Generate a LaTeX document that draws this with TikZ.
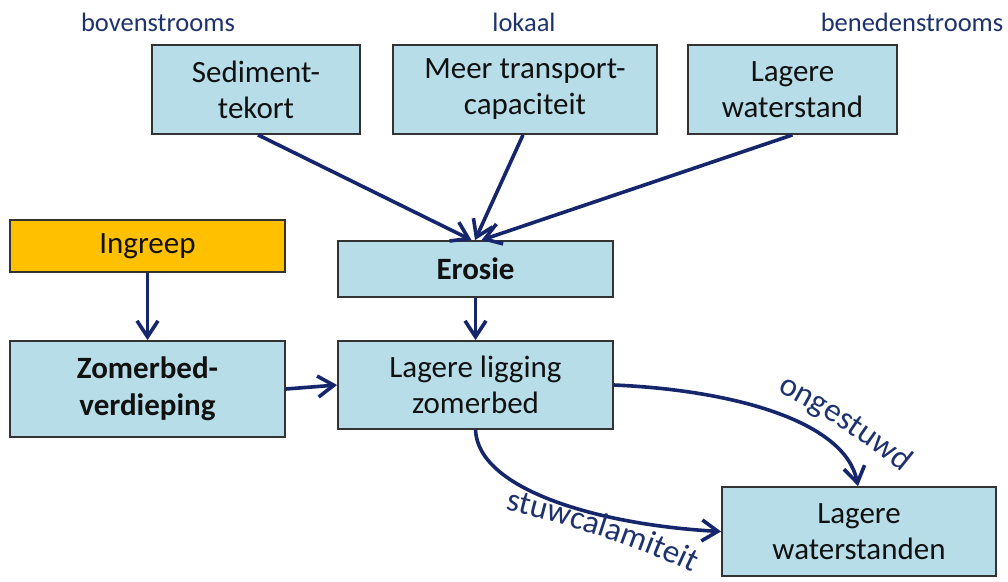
\documentclass[tikz,border=0pt]{standalone}
\usepackage{fontspec}
\setmainfont{Carlito}
\usetikzlibrary{arrows.meta,decorations.text}
\definecolor{boxfill}{HTML}{B7DDE8}
\definecolor{ingfill}{HTML}{FFC000}
\definecolor{boxline}{HTML}{333333}
\definecolor{arrowc}{RGB}{22,38,108}
\definecolor{labc}{RGB}{30,50,110}
\definecolor{boxtext}{HTML}{111111}
\newcommand\boxfont{\fontsize{31}{36}\selectfont}
\newcommand\boldboxfont{\fontsize{31}{37}\selectfont\bfseries}
\newcommand\labfont{\fontsize{26.5}{30}\selectfont}
\newcommand\curvefont{\fontsize{33}{40}\selectfont}
\begin{document}
\begin{tikzpicture}[x=1pt,y=-1pt,
  stdbox/.style={draw=boxline, line width=1.8pt, fill=boxfill, inner sep=0pt,
    align=center, text=boxtext, font=\boxfont},
  dimbox/.style 2 args={minimum width=#1pt, minimum height=#2pt},
  toplab/.style={text=labc, font=\labfont, inner sep=0pt},
  arr/.style={draw=arrowc, line width=3.6pt, -{Straight Barb[length=16pt,width=21pt]}},
  curvelab/.style={decorate, decoration={text along path, text align=center,
    text color=labc, text={|\curvefont|#1}}}
]
\useasboundingbox (0,0) rectangle (1008,581);
\fill[white] (0,0) rectangle (1008,581);

% top labels
\node[toplab] (bov) at (158,22) {bovenstrooms};
\node[toplab] (lokl) at (524,22) {lokaal};
\node[toplab] (bene) at (912,22) {benedenstrooms};

% boxes
\node[stdbox, dimbox={208}{89}] (sed) at (256,89.5) {Sediment-\\tekort};
\node[stdbox, dimbox={264}{89}] (lok) at (525,89.5) {Meer transport-\\capaciteit};
\node[stdbox, dimbox={209}{89}] (wat) at (792.5,89.5) {Lagere\\waterstand};
\node[stdbox, dimbox={275}{52}, fill=ingfill] (ing) at (147.5,246) {Ingreep};
\node[stdbox, dimbox={275}{56}, font=\boldboxfont] (ero) at (475.5,269) {Erosie};
\node[stdbox, dimbox={275}{96}, font=\boldboxfont] (zom) at (147.5,389) {Zomerbed-\\verdieping};
\node[stdbox, dimbox={275}{88}] (lig) at (475.5,385) {Lagere ligging\\zomerbed};
\node[stdbox, dimbox={274}{89}] (lws) at (859,531.5) {Lagere\\waterstanden};

% straight arrows
\draw[arr] ([xshift=2pt]sed.south) -- ([xshift=-4pt]ero.north);
\draw[arr] ([xshift=-2pt]lok.south) -- ([xshift=-0.5pt]ero.north);
\draw[arr] (wat.south) -- ([xshift=6pt]ero.north);
\draw[arr] (ing.south) -- (zom.north);
\draw[arr] (ero.south) -- (lig.north);
\draw[arr] (zom.east) -- (lig.west);

% curved arrows
\draw[arr] (lig.east) .. controls (730,390) and (845,420) .. ([xshift=-1pt]lws.north);
\draw[arr] (lig.south) .. controls (478,490) and (600,525) .. (lws.west);

% curve labels
\coordinate (ongA) at (772,389);
\coordinate (ongB) at (906,476);
\path[curvelab={ongestuwd}] (ongA) .. controls (812,407) and (870,445) .. (ongB);
\coordinate (stuA) at (494,507);
\coordinate (stuB) at (703,578);
\path[curvelab={stuwcalamiteit}] (stuA) .. controls (560,522) and (640,545) .. (stuB);
\end{tikzpicture}
\end{document}
